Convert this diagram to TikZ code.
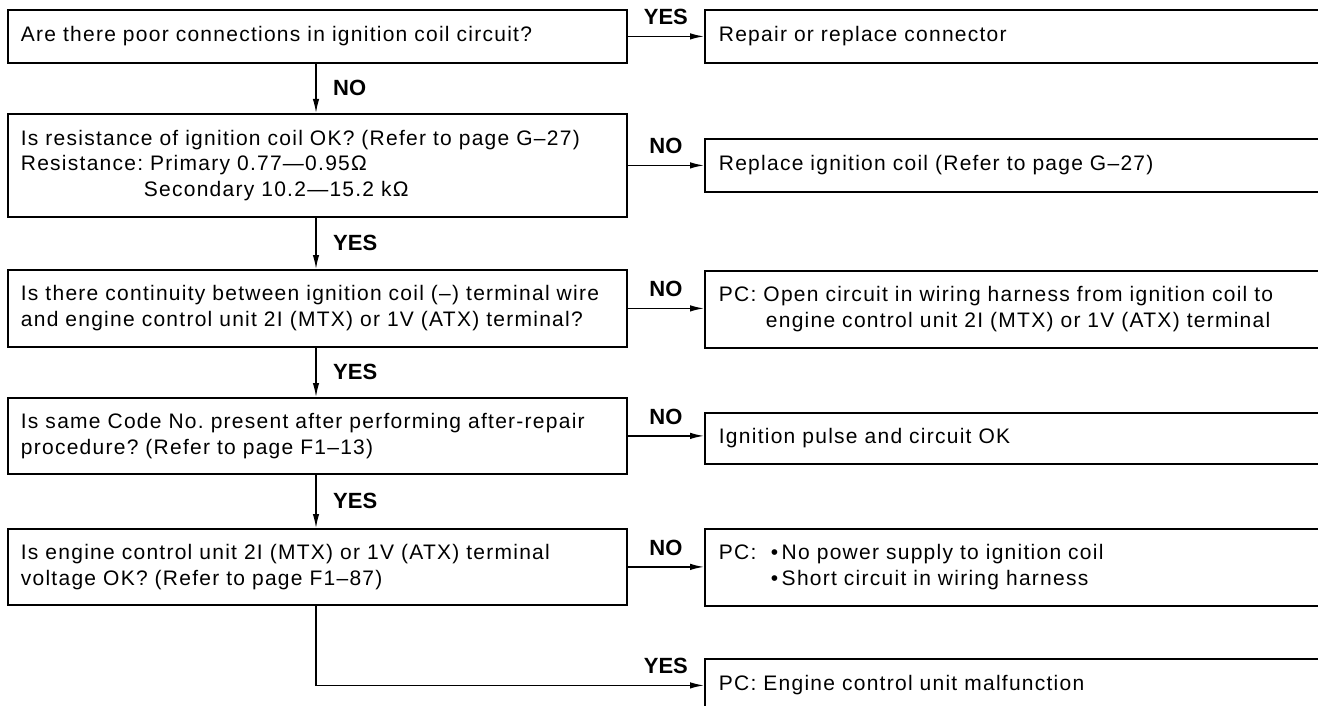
\documentclass[tikz,border=0pt]{standalone}
\usepackage{fontspec}
\setmainfont[LetterSpace=6]{Liberation Sans}
\newfontfamily\labfont{Liberation Sans}
\usetikzlibrary{arrows.meta,calc}
\frenchspacing
\tikzset{
  qbox/.style={draw, line width=1.8pt, anchor=north west, inner xsep=13pt, inner ysep=0pt,
    text width=600pt, align=left, font=\frenchspacing\fontsize{21}{25.8}\selectfont},
  abox/.style={draw, line width=1.8pt, anchor=north west, inner xsep=14pt, inner ysep=0pt,
    text width=640pt, align=left, font=\frenchspacing\fontsize{21}{25.8}\selectfont},
  lab/.style={font=\labfont\bfseries\fontsize{22}{22}\selectfont, inner sep=0pt},
  conn/.style={line width=1.4pt, -{Latex[length=14pt,width=6.5pt]}},
}
\begin{document}
\begin{tikzpicture}[x=1pt,y=-1pt]
\useasboundingbox (0,0) rectangle (1318,706);
\clip (0,0) rectangle (1318,706);
\coordinate (col) at (316,0);
% question boxes
\node[qbox, minimum height=53pt, text width=593pt]  (q1) at (7,9)   {Are there poor connections in ignition coil circuit?};
\node[qbox, minimum height=103pt, text width=593pt] (q2) at (7,113) {Is resistance of ignition coil OK? (Refer to page G–27)\\Resistance: Primary 0.77—0.95Ω\\\hspace*{123pt}Secondary 10.2—15.2 kΩ};
\node[qbox, minimum height=77pt, text width=593pt]  (q3) at (7,269) {Is there continuity between ignition coil (–) terminal wire\\and engine control unit 2I (MTX) or 1V (ATX) terminal?};
\node[qbox, minimum height=76pt, text width=593pt]  (q4) at (7,397) {Is same Code No. present after performing after-repair\\procedure? (Refer to page F1–13)};
\node[qbox, minimum height=76pt, text width=593pt]  (q5) at (7,528) {Is engine control unit 2I (MTX) or 1V (ATX) terminal\\voltage OK? (Refer to page F1–87)};
% answer boxes
\node[abox, minimum height=53pt] (a1) at (704,9)   {Repair or replace connector};
\node[abox, minimum height=53pt] (a2) at (704,138) {Replace ignition coil (Refer to page G–27)};
\node[abox, minimum height=77pt] (a3) at (704,270) {PC: Open circuit in wiring harness from ignition coil to\\\hspace*{47pt}engine control unit 2I (MTX) or 1V (ATX) terminal};
\node[abox, minimum height=51pt] (a4) at (704,412) {Ignition pulse and circuit OK};
\node[abox, minimum height=77pt] (a5) at (704,528) {\makebox[52pt][l]{PC:}•\,No power supply to ignition coil\\\hspace*{52pt}•\,Short circuit in wiring harness};
\node[abox, minimum height=53pt] (a6) at (704,658) {PC: Engine control unit malfunction};
% side arrows
\draw[conn] (q1.east) -- (q1.east -| a1.west);
\draw[conn] (q2.east) -- (q2.east -| a2.west);
\draw[conn] (q3.east) -- (q3.east -| a3.west);
\draw[conn] (q4.east) -- (q4.east -| a4.west);
\draw[conn] (q5.east) -- (q5.east -| a5.west);
\node[lab, anchor=south] (l1) at ($(q1.east)!0.5!(q1.east -| a1.west)+(0,-11)$) {YES};
\node[lab, anchor=south] (l2) at ($(q2.east)!0.5!(q2.east -| a2.west)+(0,-11)$) {NO};
\node[lab, anchor=south] (l3) at ($(q3.east)!0.5!(q3.east -| a3.west)+(0,-11)$) {NO};
\node[lab, anchor=south] (l4) at ($(q4.east)!0.5!(q4.east -| a4.west)+(0,-11)$) {NO};
\node[lab, anchor=south] (l5) at ($(q5.east)!0.5!(q5.east -| a5.west)+(0,-11)$) {NO};
% down arrows
\draw[conn] (q1.south -| col) -- (q2.north -| col);
\draw[conn] (q2.south -| col) -- (q3.north -| col);
\draw[conn] (q3.south -| col) -- (q4.north -| col);
\draw[conn] (q4.south -| col) -- (q5.north -| col);
\node[lab, anchor=west] (d1) at ($(q1.south -| col)!0.5!(q2.north -| col)+(17,0)$) {NO};
\node[lab, anchor=west] (d2) at ($(q2.south -| col)!0.5!(q3.north -| col)+(17,0)$) {YES};
\node[lab, anchor=west] (d3) at ($(q3.south -| col)!0.5!(q4.north -| col)+(17,0)$) {YES};
\node[lab, anchor=west] (d4) at ($(q4.south -| col)!0.5!(q5.north -| col)+(17,0)$) {YES};
% final
\draw[conn] (q5.south -| col) -- (col |- a6.west) -- (a6.west);
\node[lab, anchor=south] (l6) at ($(q5.east |- a6.west)!0.5!(a6.west)+(0,-11)$) {YES};
\end{tikzpicture}
\end{document}
